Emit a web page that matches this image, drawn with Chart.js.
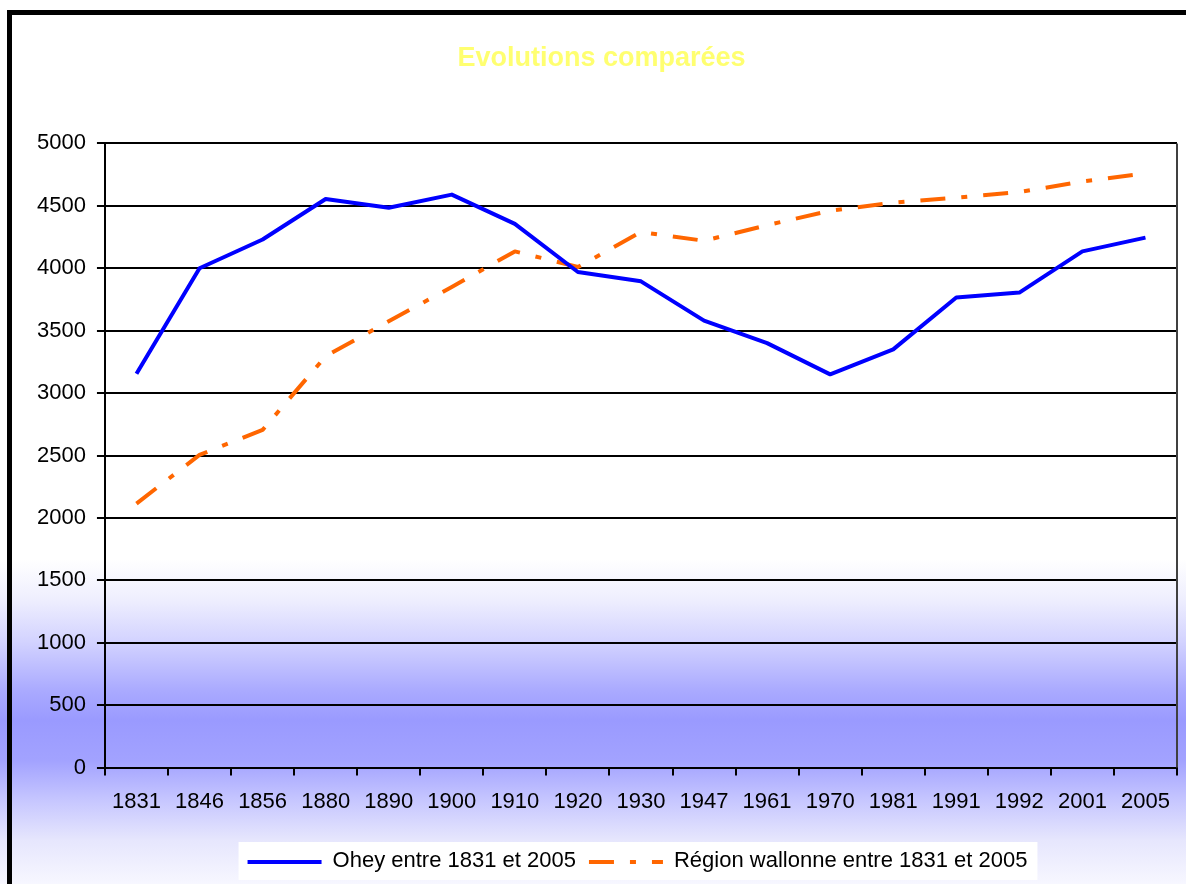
<!DOCTYPE html>
<html>
<head>
<meta charset="utf-8">
<script src="https://cdn.jsdelivr.net/npm/chart.js@4/dist/chart.umd.min.js"></script>
<style>
  html, body { margin: 0; padding: 0; background: #ffffff; }
  #wrap { width: 1186px; height: 884px; position: relative; }
</style>
</head>
<body>
<div id="wrap"><canvas id="c" width="1186" height="884"></canvas></div>
<script>
// ---- data ----
const categories = ['1831', '1846', '1856', '1880', '1890', '1900', '1910', '1920', '1930',
                    '1947', '1961', '1970', '1981', '1991', '1992', '2001', '2005'];
const oheyValues = [3155, 4000, 4230, 4555, 4485, 4590, 4355, 3970, 3895,
                    3580, 3400, 3150, 3350, 3765, 3805, 4135, 4245];
const wallonieValues = [2115, 2505, 2705, 3295, 3575, 3850, 4135, 4010, 4290,
                        4220, 4345, 4460, 4525, 4565, 4610, 4695, 4760];
const yMin = 0;
const yMax = 5000;
const yStep = 500;
const titleText = 'Evolutions comparées';
const seriesLabels = ['Ohey entre 1831 et 2005', 'Région wallonne entre 1831 et 2005'];

// ---- styles ----
const FONT = 'Liberation Sans';
const TICK_SIZE = 22;
const LEGEND_SAMPLE = 74;
const orangeDash = [25, 16, 6, 16];

Chart.defaults.font.family = FONT;

const deco = {
  id: 'deco',
  afterLayout(chart) {
    const lg = chart.legend;
    if (!lg) return;
    const dx = 637.5 - (lg.left + lg.right) / 2;
    lg.left += dx; lg.right += dx;
    const pad = lg.options.labels.padding;
    const dy = 861 - (lg.top + pad + TICK_SIZE / 2);
    lg.top += dy; lg.bottom += dy;
  },
  beforeDraw(chart) {
    const ctx = chart.ctx;
    const W = chart.width, H = chart.height;
    ctx.save();
    const g = ctx.createLinearGradient(0, 0, 0, H);
    g.addColorStop(0, '#ffffff');
    g.addColorStop(0.633, '#ffffff');
    g.addColorStop(0.679, '#eeeefe');
    g.addColorStop(0.727, '#d2d2ff');
    g.addColorStop(0.781, '#aaaaff');
    g.addColorStop(0.815, '#9a9aff');
    g.addColorStop(0.860, '#a2a2ff');
    g.addColorStop(0.905, '#c6c6ff');
    g.addColorStop(0.950, '#e6e6fd');
    g.addColorStop(1, '#f7f7ff');
    ctx.fillStyle = g;
    ctx.fillRect(0, 0, W, H);
    // frame
    ctx.strokeStyle = '#000000';
    ctx.lineWidth = 5;
    ctx.strokeRect(9.5, 12.5, W + 40, H + 40);
    // legend white box
    const lg = chart.legend;
    if (lg && lg.legendHitBoxes && lg.legendHitBoxes.length) {
      const hb = lg.legendHitBoxes;
      const first = hb[0], last = hb[hb.length - 1];
      const cy = first.top + first.height / 2;
      const left = first.left - 9;
      const right = last.left + last.width + 10;
      ctx.fillStyle = '#ffffff';
      ctx.fillRect(left, cy - 19, right - left, 38);
    }
    ctx.restore();
  },
  beforeDatasetsDraw(chart) {
    const ctx = chart.ctx;
    const a = chart.chartArea;
    ctx.save();
    ctx.strokeStyle = '#404040';
    ctx.lineWidth = 2;
    ctx.beginPath();
    ctx.moveTo(a.right, a.top);
    ctx.lineTo(a.right, a.bottom);
    ctx.stroke();
    ctx.restore();
  },
  afterDraw(chart) {
    const ctx = chart.ctx;
    const lg = chart.legend;
    if (!lg || !lg.legendHitBoxes) return;
    ctx.save();
    lg.legendHitBoxes.forEach((hb, i) => {
      const ds = chart.data.datasets[i];
      const y = hb.top + hb.height / 2 + 1;
      ctx.strokeStyle = ds.borderColor;
      ctx.lineWidth = ds.borderWidth;
      ctx.lineCap = 'butt';
      ctx.setLineDash(ds.borderDash || []);
      ctx.beginPath();
      ctx.moveTo(hb.left, y);
      ctx.lineTo(hb.left + LEGEND_SAMPLE, y);
      ctx.stroke();
    });
    ctx.restore();
  }
};

new Chart(document.getElementById('c'), {
  type: 'line',
  data: {
    labels: categories,
    datasets: [
      {
        label: seriesLabels[0],
        data: oheyValues,
        borderColor: '#0000ff',
        borderWidth: 4,
        pointRadius: 0,
        tension: 0,
        fill: false,
        borderJoinStyle: 'round'
      },
      {
        label: seriesLabels[1],
        data: wallonieValues,
        borderColor: '#ff6600',
        borderWidth: 4,
        borderDash: orangeDash,
        pointRadius: 0,
        tension: 0,
        fill: false,
        borderJoinStyle: 'round'
      }
    ]
  },
  options: {
    responsive: false,
    animation: false,
    devicePixelRatio: 1,
    events: [],
    layout: { padding: { left: 26, right: 9, top: 0, bottom: 0 } },
    plugins: {
      title: {
        display: true,
        text: titleText,
        color: '#ffff70',
        font: { family: FONT, size: 27, weight: 'bold' },
        padding: { top: 42, bottom: 69 }
      },
      legend: {
        position: 'bottom',
        labels: {
          font: { family: FONT, size: TICK_SIZE },
          color: '#000000',
          boxWidth: LEGEND_SAMPLE,
          boxHeight: 4,
          padding: 13,
          generateLabels: (chart) => chart.data.datasets.map((ds, i) => ({
            text: ds.label,
            fillStyle: 'rgba(0,0,0,0)',
            strokeStyle: 'rgba(0,0,0,0)',
            lineWidth: 0,
            hidden: false,
            datasetIndex: i,
            fontColor: '#000000'
          }))
        }
      },
      tooltip: { enabled: false }
    },
    scales: {
      x: {
        type: 'category',
        offset: true,
        grid: {
          offset: true,
          drawOnChartArea: false,
          drawTicks: true,
          tickLength: 8,
          color: '#000000',
          lineWidth: 2
        },
        border: { color: '#000000', width: 2 },
        ticks: {
          color: '#000000',
          font: { family: FONT, size: TICK_SIZE },
          padding: 13,
          maxRotation: 0,
          autoSkip: false
        },
        afterFit: (s) => { s.height += 11; }
      },
      y: {
        min: yMin,
        max: yMax,
        ticks: {
          stepSize: yStep,
          padding: 11,
          color: '#000000',
          font: { family: FONT, size: TICK_SIZE },
          callback: (v) => String(v)
        },
        grid: { color: '#000000', lineWidth: 2, tickLength: 8 },
        border: { color: '#000000', width: 2 }
      }
    }
  },
  plugins: [deco]
});
</script>
</body>
</html>
